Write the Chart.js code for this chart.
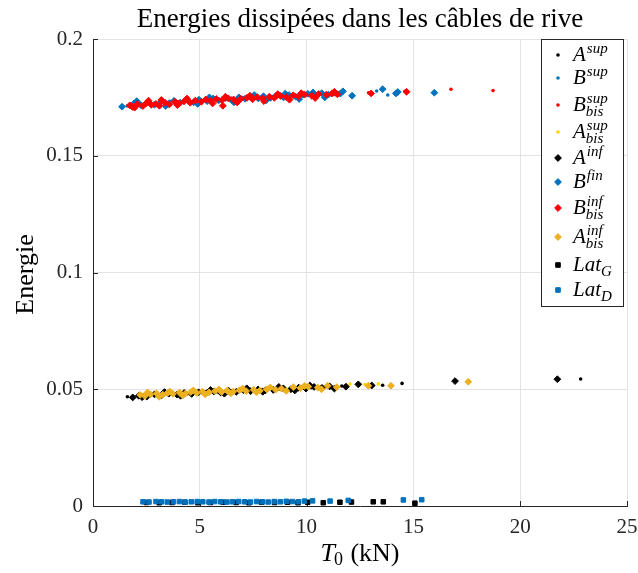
<!DOCTYPE html>
<html>
<head>
<meta charset="utf-8">
<script src="https://cdn.jsdelivr.net/npm/chart.js@4.4.1/dist/chart.umd.min.js"></script>
<style>
  html, body { margin: 0; padding: 0; background: #fff; }
  #wrap { width: 638px; height: 573px; }
</style>
</head>
<body>
<div id="wrap"><canvas id="chart" width="638" height="573"></canvas></div>
<script>
// Values
const xTickLabels = ["0", "5", "10", "15", "20", "25"];
const yTickLabels = ["0", "0.05", "0.1", "0.15", "0.2"];

// upper band (B series)
const bSupX = [1.6, 2.2, 2.9, 3.6, 4.3, 5.0, 5.7, 6.4, 7.0, 7.8, 8.4, 9.1, 9.7, 10.3, 10.9, 11.5, 13.28, 13.8];
const bSupY = [0.1713, 0.1726, 0.1720, 0.1733, 0.1735, 0.1733, 0.1743, 0.1740, 0.1749, 0.1747, 0.1754, 0.1752, 0.1760, 0.1762, 0.1767, 0.1770, 0.1777, 0.1760];

const bBisSupX = [1.9, 2.6, 3.3, 3.9, 4.6, 5.2, 5.9, 6.6, 7.3, 7.9, 8.6, 9.3, 9.9, 10.5, 11.2, 12.9, 14.6, 16.76, 18.73];
const bBisSupY = [0.1718, 0.1724, 0.1726, 0.1732, 0.1731, 0.1738, 0.1741, 0.1744, 0.1747, 0.1750, 0.1752, 0.1756, 0.1759, 0.1762, 0.1765, 0.1770, 0.1776, 0.1785, 0.1779];

const bFinX = [1.36, 1.92, 2.05, 2.25, 2.61, 2.87, 3.18, 3.40, 3.52, 3.79, 4.08, 4.43, 4.71, 4.90, 4.96, 5.34, 5.45, 5.62, 5.88, 6.21, 6.47, 6.60, 6.83, 7.12, 7.36, 7.55, 7.74, 7.98, 8.10, 8.31, 8.57, 8.92, 9.00, 9.18, 9.49, 9.65, 9.83, 10.06, 10.30, 10.42, 10.71, 10.85, 11.02, 11.31, 11.58, 11.70, 12.13, 13.56, 14.18, 14.27, 15.98];
const bFinY = [0.1710, 0.1724, 0.1734, 0.1716, 0.1728, 0.1719, 0.1731, 0.1713, 0.1722, 0.1735, 0.1727, 0.1737, 0.1729, 0.1722, 0.1740, 0.1734, 0.1750, 0.1745, 0.1737, 0.1747, 0.1739, 0.1729, 0.1750, 0.1744, 0.1752, 0.1760, 0.1746, 0.1755, 0.1737, 0.1748, 0.1757, 0.1750, 0.1766, 0.1760, 0.1753, 0.1743, 0.1762, 0.1765, 0.1771, 0.1758, 0.1768, 0.1750, 0.1762, 0.1770, 0.1766, 0.1776, 0.1757, 0.1785, 0.1767, 0.1773, 0.1770];

const bBisInfX = [1.72, 1.85, 1.95, 2.08, 2.34, 2.49, 2.60, 2.73, 2.95, 3.11, 3.20, 3.37, 3.58, 3.84, 3.95, 4.02, 4.26, 4.40, 4.55, 4.79, 5.07, 5.28, 5.51, 5.60, 5.77, 6.04, 6.08, 6.20, 6.33, 6.58, 6.75, 6.92, 7.21, 7.35, 7.47, 7.69, 7.95, 8.00, 8.26, 8.49, 8.65, 8.78, 9.05, 9.20, 9.37, 9.62, 9.75, 9.91, 10.24, 10.40, 10.56, 10.93, 11.18, 11.30, 11.44, 13.02, 14.68];
const bBisInfY = [0.1716, 0.1709, 0.1706, 0.1721, 0.1713, 0.1725, 0.1736, 0.1718, 0.1722, 0.1714, 0.1739, 0.1727, 0.1720, 0.1731, 0.1717, 0.1724, 0.1733, 0.1745, 0.1727, 0.1736, 0.1731, 0.1741, 0.1735, 0.1724, 0.1743, 0.1738, 0.1714, 0.1753, 0.1746, 0.1741, 0.1728, 0.1744, 0.1748, 0.1757, 0.1742, 0.1751, 0.1745, 0.1734, 0.1753, 0.1748, 0.1764, 0.1756, 0.1751, 0.1740, 0.1759, 0.1754, 0.1768, 0.1762, 0.1757, 0.1747, 0.1764, 0.1761, 0.1766, 0.1774, 0.1763, 0.1767, 0.1774];

// middle band (A series)
const aSupX = [1.61, 2.35, 3.05, 3.68, 4.41, 5.18, 5.84, 6.49, 7.26, 7.92, 8.68, 9.45, 10.21, 10.86, 11.65, 13.56, 14.47, 22.83];
const aSupY = [0.0468, 0.0474, 0.0476, 0.0482, 0.0481, 0.0489, 0.0488, 0.0493, 0.0494, 0.0499, 0.0500, 0.0505, 0.0507, 0.0511, 0.0514, 0.0517, 0.0525, 0.0544];

const aBisSupX = [2.7, 3.8, 5.0, 6.2, 7.4, 8.6, 9.8, 10.6, 12.03, 12.73, 13.36];
const aBisSupY = [0.0478, 0.0482, 0.0489, 0.0491, 0.0496, 0.0501, 0.0507, 0.0510, 0.0522, 0.0520, 0.0523];

const aInfX = [1.86, 2.14, 2.30, 2.52, 2.88, 3.21, 3.35, 3.55, 3.93, 4.10, 4.27, 4.62, 4.94, 5.31, 5.50, 5.66, 5.98, 6.15, 6.35, 6.71, 7.04, 7.20, 7.38, 7.73, 7.95, 8.07, 8.44, 8.70, 8.91, 9.26, 9.45, 9.63, 9.97, 10.15, 10.35, 10.72, 11.08, 11.30, 11.84, 12.42, 13.05, 16.95, 21.74];
const aInfY = [0.0465, 0.0472, 0.0466, 0.0469, 0.0478, 0.0474, 0.0488, 0.0481, 0.0477, 0.0472, 0.0484, 0.0480, 0.0487, 0.0483, 0.0497, 0.0490, 0.0486, 0.0481, 0.0493, 0.0489, 0.0496, 0.0504, 0.0492, 0.0499, 0.0489, 0.0495, 0.0497, 0.0510, 0.0504, 0.0500, 0.0495, 0.0507, 0.0503, 0.0516, 0.0510, 0.0506, 0.0512, 0.0503, 0.0511, 0.0521, 0.0516, 0.0535, 0.0543];

const aBisInfX = [2.21, 2.43, 2.55, 2.69, 2.98, 3.10, 3.27, 3.49, 3.60, 3.74, 4.05, 4.20, 4.33, 4.58, 4.70, 4.86, 5.12, 5.25, 5.43, 5.71, 5.90, 6.02, 6.28, 6.45, 6.57, 6.86, 7.00, 7.17, 7.52, 7.65, 7.81, 8.13, 8.30, 8.55, 8.82, 9.05, 9.38, 9.71, 9.90, 10.08, 10.52, 10.70, 10.98, 11.41, 12.89, 13.95, 17.57];
const aBisInfY = [0.0476, 0.0471, 0.0486, 0.0478, 0.0482, 0.0468, 0.0477, 0.0484, 0.0490, 0.0480, 0.0486, 0.0473, 0.0482, 0.0488, 0.0495, 0.0484, 0.0490, 0.0478, 0.0487, 0.0492, 0.0499, 0.0488, 0.0494, 0.0482, 0.0490, 0.0496, 0.0503, 0.0492, 0.0498, 0.0487, 0.0494, 0.0500, 0.0508, 0.0498, 0.0503, 0.0493, 0.0509, 0.0505, 0.0514, 0.0511, 0.0507, 0.0500, 0.0515, 0.0509, 0.0515, 0.0515, 0.0532];

// bottom band (Lat series)
const latGX = [2.5, 3.1, 3.7, 4.3, 4.9, 5.5, 6.1, 6.7, 7.3, 7.9, 8.5, 9.1, 9.6, 10.05, 10.78, 11.56, 12.1, 13.12, 13.59, 15.07];
const latGY = [0.0015, 0.0014, 0.0015, 0.0016, 0.0014, 0.0015, 0.0016, 0.0015, 0.0014, 0.0016, 0.0015, 0.0016, 0.0014, 0.0016, 0.0014, 0.0016, 0.0017, 0.0018, 0.0018, 0.0012];

const latDX = [2.34, 2.62, 2.95, 3.21, 3.48, 3.77, 4.05, 4.31, 4.6, 4.88, 5.14, 5.43, 5.7, 5.98, 6.27, 6.53, 6.82, 7.1, 7.37, 7.66, 7.93, 8.2, 8.49, 8.77, 9.05, 9.33, 9.62, 9.9, 10.28, 11.1, 11.95, 14.53, 15.39];
const latDY = [0.0018, 0.0017, 0.0019, 0.0018, 0.0017, 0.0018, 0.0019, 0.0017, 0.0018, 0.0019, 0.0018, 0.0017, 0.0019, 0.0018, 0.0017, 0.0018, 0.0019, 0.0018, 0.0017, 0.0019, 0.0018, 0.0017, 0.0019, 0.0018, 0.0020, 0.0019, 0.0018, 0.0021, 0.0022, 0.0021, 0.0024, 0.0026, 0.0027];

// legend text pieces, in legend order
const legendBase = ["A", "B", "B", "A", "A", "B", "B", "A", "Lat", "Lat"];
const legendSup = ["sup", "sup", "sup", "sup", "inf", "fin", "inf", "inf", "", ""];
const legendSub = ["", "", "bis", "bis", "", "", "bis", "bis", "G", "D"];

const BLUE = "#0072BD";
const RED = "#FF0000";
const BLACK = "#000000";
const YELLOW = "#FFD600";
const ORANGE = "#EDB120";
const SERIF = "'Liberation Serif', 'Times New Roman', serif";

function pts(xs, ys) {
  return xs.map((x, i) => ({ x: x, y: ys[i] }));
}

// legend order (MATLAB draw order: first entry at the bottom)
const series = [
  { data: pts(aSupX, aSupY), color: BLACK, style: "circle" },
  { data: pts(bSupX, bSupY), color: BLUE, style: "circle" },
  { data: pts(bBisSupX, bBisSupY), color: RED, style: "circle" },
  { data: pts(aBisSupX, aBisSupY), color: YELLOW, style: "circle" },
  { data: pts(aInfX, aInfY), color: BLACK, style: "rectRot" },
  { data: pts(bFinX, bFinY), color: BLUE, style: "rectRot" },
  { data: pts(bBisInfX, bBisInfY), color: RED, style: "rectRot" },
  { data: pts(aBisInfX, aBisInfY), color: ORANGE, style: "rectRot" },
  { data: pts(latGX, latGY), color: BLACK, style: "rect" },
  { data: pts(latDX, latDY), color: BLUE, style: "rect" },
];

function radiusFor(style) {
  if (style === "circle") return 1.8;
  if (style === "rectRot") return 3.4;
  return 3.2;
}

// Chart.js draws dataset 0 last, so reverse to keep MATLAB stacking
const datasets = series.slice().reverse().map((s, i) => ({
  label: legendBase[series.length - 1 - i],
  data: s.data,
  pointStyle: s.style,
  pointRadius: radiusFor(s.style),
  backgroundColor: s.color,
  borderColor: s.color,
  borderWidth: s.style === "circle" ? 0 : 1,
}));

function drawMarker(ctx, style, color, x, y) {
  ctx.save();
  ctx.fillStyle = color;
  ctx.strokeStyle = color;
  ctx.lineWidth = 1;
  ctx.beginPath();
  if (style === "circle") {
    ctx.arc(x, y, 1.8, 0, Math.PI * 2);
    ctx.fill();
  } else if (style === "rectRot") {
    const r = 3.4;
    ctx.moveTo(x, y - r);
    ctx.lineTo(x + r, y);
    ctx.lineTo(x, y + r);
    ctx.lineTo(x - r, y);
    ctx.closePath();
    ctx.fill();
    ctx.stroke();
  } else {
    const h = 2.3;
    ctx.rect(x - h, y - h, h * 2, h * 2);
    ctx.fill();
    ctx.stroke();
  }
  ctx.restore();
}

const annotations = {
  id: "annotations",
  beforeDatasetsDraw(chart) {
    const { ctx, chartArea, scales } = chart;
    // inward tick marks like MATLAB
    ctx.save();
    ctx.strokeStyle = "#262626";
    ctx.lineWidth = 1;
    scales.y.ticks.forEach((t) => {
      const py = Math.round(scales.y.getPixelForValue(t.value)) + 0.5;
      ctx.beginPath();
      ctx.moveTo(chartArea.left, py);
      ctx.lineTo(chartArea.left + 5, py);
      ctx.stroke();
    });
    scales.x.ticks.forEach((t) => {
      const px = Math.round(scales.x.getPixelForValue(t.value)) + 0.5;
      ctx.beginPath();
      ctx.moveTo(px, chartArea.bottom);
      ctx.lineTo(px, chartArea.bottom - 5);
      ctx.stroke();
    });
    ctx.restore();
  },
  afterDraw(chart) {
    const { ctx, chartArea } = chart;
    ctx.save();
    ctx.fillStyle = "#000";
    ctx.textBaseline = "alphabetic";

    // title
    ctx.font = "27px " + SERIF;
    ctx.textAlign = "center";
    ctx.fillText("Energies dissipées dans les câbles de rive", (chartArea.left + chartArea.right) / 2, 27);

    // y axis label
    ctx.save();
    ctx.translate(33, (chartArea.top + chartArea.bottom) / 2 + 2);
    ctx.rotate(-Math.PI / 2);
    ctx.font = "26px " + SERIF;
    ctx.fillText("Energie", 0, 0);
    ctx.restore();

    // x axis label: T_0 (kN)
    ctx.textAlign = "left";
    const big = "26px " + SERIF;
    const bigIt = "italic 26px " + SERIF;
    const small = "18px " + SERIF;
    ctx.font = bigIt;
    const wT = ctx.measureText("T").width;
    ctx.font = small;
    const w0 = ctx.measureText("0").width;
    ctx.font = big;
    const wRest = ctx.measureText(" (kN)").width;
    let x0 = (chartArea.left + chartArea.right) / 2 - (wT + w0 + wRest) / 2;
    const by = 561;
    ctx.font = bigIt;
    ctx.fillText("T", x0, by);
    ctx.font = small;
    ctx.fillText("0", x0 + wT - 1, by + 4);
    ctx.font = big;
    ctx.fillText(" (kN)", x0 + wT + w0, by);

    // legend box
    const lx = 541, ly = 39, lw = 82, lh = 267;
    ctx.fillStyle = "#fff";
    ctx.fillRect(lx, ly, lw, lh);
    ctx.strokeStyle = "#262626";
    ctx.lineWidth = 1;
    ctx.strokeRect(lx + 0.5, ly + 0.5, lw, lh);

    const rowY = [55, 78, 105, 132, 158, 182, 208, 237, 265, 290];
    series.forEach((s, i) => {
      const cy = rowY[i];
      drawMarker(ctx, s.style, s.color, 558, cy);
      ctx.fillStyle = "#000";
      const baseY = cy + 6;
      ctx.font = "italic 21px " + SERIF;
      ctx.fillText(legendBase[i], 573, baseY);
      const bw = ctx.measureText(legendBase[i]).width;
      ctx.font = "italic 15px " + SERIF;
      if (legendSup[i]) ctx.fillText(legendSup[i], 573 + bw + 1, baseY - 8);
      if (legendSub[i]) ctx.fillText(legendSub[i], 573 + bw, baseY + 5);
    });
    ctx.restore();
  },
};

new Chart(document.getElementById("chart"), {
  type: "scatter",
  data: { datasets: datasets },
  options: {
    responsive: false,
    animation: false,
    events: [],
    layout: { padding: { top: 39, right: 11, left: 0, bottom: 0 } },
    plugins: {
      legend: { display: false },
      title: { display: false },
      tooltip: { enabled: false },
    },
    scales: {
      x: {
        type: "linear",
        min: 0,
        max: 25,
        afterFit: (s) => { s.height = 67; s.paddingLeft = 0; s.paddingRight = 0; },
        ticks: {
          stepSize: 5,
          padding: 9,
          color: "#262626",
          font: { family: SERIF, size: 21 },
          callback: (v, i) => xTickLabels[i],
        },
        grid: { color: "#e3e3e3", drawTicks: false },
        border: { color: "#262626" },
      },
      y: {
        type: "linear",
        min: 0,
        max: 0.2,
        afterFit: (s) => { s.width = 93; s.paddingTop = 0; s.paddingBottom = 0; },
        ticks: {
          stepSize: 0.05,
          padding: 10,
          color: "#262626",
          font: { family: SERIF, size: 21 },
          callback: (v, i) => yTickLabels[i],
        },
        grid: { color: "#e3e3e3", drawTicks: false },
        border: { color: "#262626" },
      },
    },
  },
  plugins: [annotations],
});
</script>
</body>
</html>
